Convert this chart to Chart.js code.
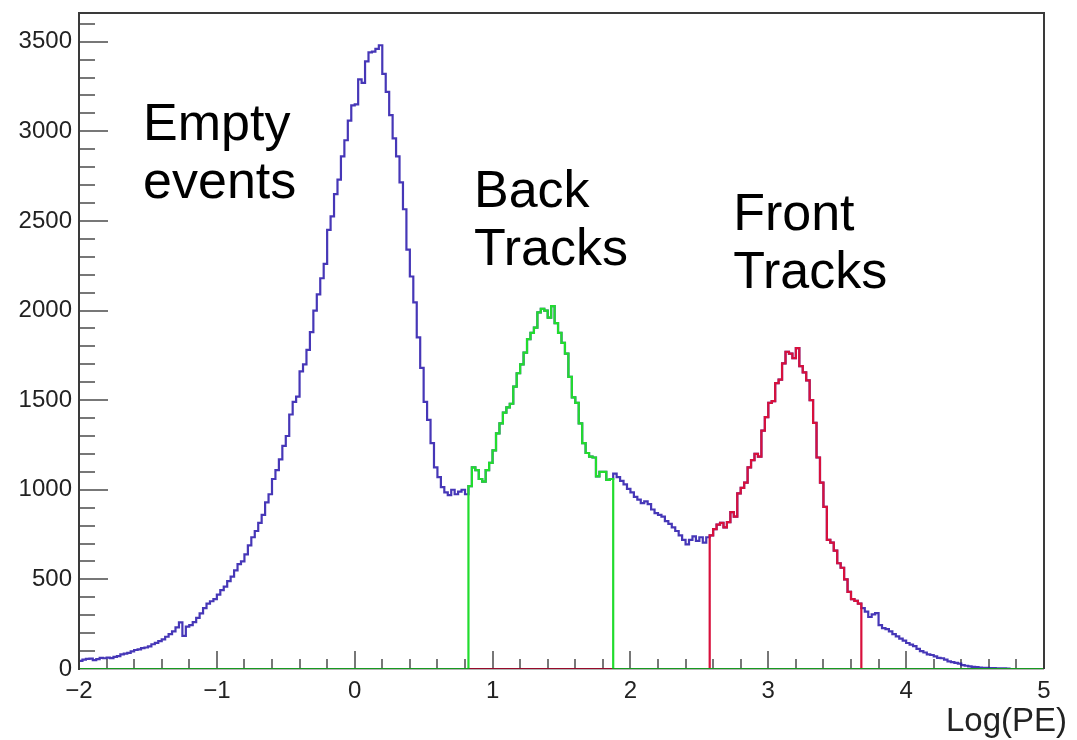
<!DOCTYPE html>
<html>
<head>
<meta charset="utf-8">
<script src="https://cdn.jsdelivr.net/npm/chart.js@4.4.1/dist/chart.umd.min.js"></script>
<style>
  body { margin: 0; background: #fff; }
  #wrap { width: 1077px; height: 740px; }
</style>
</head>
<body>
<div id="wrap"><canvas class="grafico" width="1077" height="740"></canvas></div>
<script>
// histogram bins: lower edge of first bin and bin width, counts
const binLow = -2;
const binWidth = 0.025;
const counts = [
  40, 45, 52, 56, 58, 50, 55, 62, 60, 63,
  61, 68, 72, 82, 86, 90, 98, 106, 110, 117,
  120, 126, 138, 146, 155, 165, 180, 195, 210, 232,
  260, 185, 236, 245, 262, 285, 310, 340, 365, 378,
  390, 415, 440, 460, 490, 515, 550, 585, 600, 640,
  690, 735, 770, 815, 860, 930, 975, 1060, 1110, 1170,
  1245, 1300, 1420, 1490, 1520, 1660, 1700, 1780, 1880, 2000,
  2090, 2180, 2260, 2450, 2525, 2650, 2730, 2860, 2950, 3060,
  3145, 3150, 3290, 3270, 3390, 3440, 3445, 3460, 3480, 3320,
  3220, 3090, 2960, 2860, 2715, 2565, 2340, 2190, 2045, 1850,
  1680, 1490, 1390, 1260, 1125, 1070, 1015, 985, 970, 1000,
  975, 990, 1000, 975, 1020, 1125, 1110, 1060, 1045, 1110,
  1150, 1220, 1315, 1370, 1430, 1460, 1480, 1575, 1650, 1700,
  1765, 1840, 1875, 1905, 1990, 2010, 2000, 1960, 2025, 1930,
  1875, 1820, 1760, 1630, 1515, 1485, 1370, 1260, 1205, 1185,
  1180, 1075, 1100, 1100, 1055, 1060, 1090, 1070, 1050, 1030,
  1005, 985, 960, 945, 925, 935, 920, 890, 870, 860,
  850, 825, 810, 790, 770, 745, 720, 695, 720, 740,
  715, 735, 705, 735, 745, 780, 805, 815, 790, 820,
  875, 850, 980, 1010, 1040, 1125, 1165, 1200, 1185, 1330,
  1405, 1485, 1495, 1595, 1615, 1705, 1770, 1760, 1735, 1790,
  1690, 1655, 1610, 1500, 1373, 1180, 1040, 905, 720, 705,
  660, 590, 565, 500, 430, 390, 380, 365, 340, 320,
  290, 305, 312, 245, 228, 222, 210, 195, 182, 170,
  158, 145, 136, 128, 112, 100, 92, 82, 78, 70,
  62, 60, 52, 42, 38, 34, 30, 22, 18, 15,
  12, 10, 8, 7, 6, 5, 5, 4, 4, 3,
  2, 0, 0, 0, 0, 0, 0, 0, 0, 0
];
const backCut = [0.85, 1.9];
const frontCut = [2.6, 3.7];
const xTitle = "Log(PE)";
const notes = [["Empty", "events"], ["Back", "Tracks"], ["Front", "Tracks"]];

const canvas = document.querySelector(".grafico");
const fuente = "'Liberation Sans', Arial, Helvetica, sans-serif";

const binX = counts.map((c, i) => +(binLow + i * binWidth).toFixed(3));
const xEnd = +(binLow + counts.length * binWidth).toFixed(3);
const dentro = (x, cut) => x > cut[0] - 1e-9 && x < cut[1] - 1e-9;

function histo(mask) {
  const pts = counts.map((c, i) => ({ x: binX[i], y: mask(binX[i]) ? c : 0 }));
  pts.push({ x: xEnd, y: 0 });
  return pts;
}

const formatoTick = (v) => {
  if (Math.abs(v - Math.round(v)) > 1e-6) return "";
  const n = Math.round(v);
  return n < 0 ? "\u2212" + Math.abs(n) : String(n);
};

const marcas = {
  id: "marcas",
  beforeDatasetsDraw(chart) {
    const { ctx, chartArea: a, scales: { x, y } } = chart;
    ctx.save();
    ctx.strokeStyle = "#777";
    ctx.lineWidth = 2;
    ctx.beginPath();
    y.ticks.forEach((t) => {
      const v = Math.round(t.value);
      if (v % 100 !== 0 || v <= 0) return;
      const py = Math.round(y.getPixelForValue(v));
      ctx.moveTo(a.left, py);
      ctx.lineTo(a.left + (v % 500 === 0 ? 29 : 16), py);
    });
    x.ticks.forEach((t) => {
      const v = t.value;
      if (v <= x.min + 1e-6 || v >= x.max - 1e-6) return;
      const major = Math.abs(v - Math.round(v)) < 1e-6;
      const px = Math.round(x.getPixelForValue(v));
      ctx.moveTo(px, a.bottom);
      ctx.lineTo(px, a.bottom - (major ? 18 : 10));
    });
    ctx.stroke();
    ctx.restore();
  },
  afterDatasetsDraw(chart) {
    // the zero level looks darker where the coloured line sits on the axis
    const { ctx, chartArea: a } = chart;
    ctx.save();
    ctx.strokeStyle = "rgba(0,0,0,0.4)";
    ctx.lineWidth = 1.5;
    ctx.beginPath();
    ctx.moveTo(a.left, a.bottom);
    ctx.lineTo(a.right, a.bottom);
    ctx.stroke();
    ctx.restore();
  },
  afterDraw(chart) {
    const { ctx, chartArea: a, scales: { x, y } } = chart;
    ctx.save();
    ctx.strokeStyle = "#3a3a3a";
    ctx.lineWidth = 2;
    ctx.beginPath();
    ctx.moveTo(a.left, a.bottom + 1);
    ctx.lineTo(a.left, a.top);
    ctx.lineTo(a.right, a.top);
    ctx.lineTo(a.right, a.bottom);
    ctx.stroke();

    // labels of the three populations
    const anclas = [[-1.535, 2950], [0.865, 2580], [2.745, 2450]];
    ctx.fillStyle = "#000";
    ctx.font = "52px " + fuente;
    ctx.textAlign = "left";
    ctx.textBaseline = "alphabetic";
    notes.forEach((lineas, k) => {
      const px = x.getPixelForValue(anclas[k][0]);
      const py = y.getPixelForValue(anclas[k][1]);
      lineas.forEach((t, j) => ctx.fillText(t, px, py + j * 58));
    });

    ctx.font = "33px " + fuente;
    ctx.fillStyle = "#222";
    ctx.textAlign = "right";
    ctx.fillText(xTitle, chart.width - 10, 731);
    ctx.restore();
  }
};

const serie = (data, color, orden) => ({
  data,
  borderColor: color,
  borderWidth: 2.2,
  pointRadius: 0,
  stepped: "after",
  fill: false,
  order: orden
});

const config = {
  type: "line",
  data: {
    datasets: [
      serie(histo((x) => dentro(x, backCut)), "#22dc2e", 1),
      serie(histo((x) => dentro(x, frontCut)), "#d8103c", 2),
      serie(histo(() => true), "rgba(38,20,170,0.85)", 3)
    ]
  },
  options: {
    responsive: false,
    animation: false,
    layout: { padding: { top: 13, right: 33, left: 0, bottom: 0 } },
    plugins: { legend: { display: false }, tooltip: { enabled: false } },
    scales: {
      x: {
        type: "linear",
        min: -2,
        max: 5,
        afterFit: (s) => { s.height = 71; s.paddingLeft = 0; s.paddingRight = 0; },
        grid: { display: false, drawTicks: false },
        border: { display: false },
        ticks: {
          stepSize: 0.2,
          autoSkip: false,
          maxRotation: 0,
          includeBounds: false,
          padding: 8,
          color: "#222",
          font: { family: fuente, size: 24 },
          callback: formatoTick
        }
      },
      y: {
        min: 0,
        max: 3660,
        afterFit: (s) => { s.width = 79; s.paddingTop = 0; s.paddingBottom = 0; },
        grid: { display: false, drawTicks: false },
        border: { display: false },
        ticks: {
          stepSize: 100,
          autoSkip: false,
          includeBounds: false,
          padding: 7,
          color: "#222",
          font: { family: fuente, size: 24 },
          callback: (v) => (Math.round(v) % 500 === 0 ? String(Math.round(v)) : "")
        }
      }
    }
  },
  plugins: [marcas]
};

new Chart(canvas, config);
</script>
</body>
</html>
